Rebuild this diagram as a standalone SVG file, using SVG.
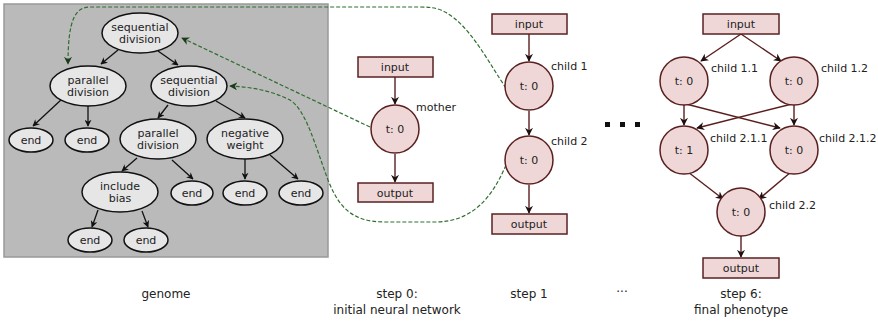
<svg xmlns="http://www.w3.org/2000/svg" width="878" height="322" viewBox="0 0 878 322">
<defs>
<style>
text{font-family:"DejaVu Sans","Liberation Sans",sans-serif;font-size:11px;fill:#222;text-anchor:middle}
#captions text{font-size:12px}
.gene ellipse{fill:#e6e6e6;stroke:#111;stroke-width:1.5}
.net rect,.net circle{fill:#efd7d7;stroke:#5a2020;stroke-width:1.5}
.lbl{text-anchor:start}
.ga{stroke:#111;stroke-width:1.3;fill:none;marker-end:url(#ah)}
.na{stroke:#5a1e1e;stroke-width:1.4;fill:none;marker-end:url(#nh)}
.gd{stroke:#2f6e2f;stroke-width:1.2;fill:none;stroke-dasharray:4,2;marker-end:url(#gh)}
</style>
<marker id="ah" viewBox="0 0 10 10" refX="9" refY="5" markerWidth="7" markerHeight="7" orient="auto" markerUnits="userSpaceOnUse">
<path d="M0,0 L10,5 L0,10 L3,5 z" fill="#111"/>
</marker>
<marker id="nh" viewBox="0 0 10 10" refX="9" refY="5" markerWidth="8" markerHeight="8" orient="auto" markerUnits="userSpaceOnUse">
<path d="M0,0 L10,5 L0,10 L3,5 z" fill="#1e1010"/>
</marker>
<marker id="gh" viewBox="0 0 10 10" refX="9" refY="5" markerWidth="8" markerHeight="8" orient="auto" markerUnits="userSpaceOnUse">
<path d="M0,0 L10,5 L0,10 L3,5 z" fill="#1a3a1a"/>
</marker>
</defs>
<rect x="4" y="4" width="324" height="253" fill="#bababa" stroke="#999" stroke-width="1.5"/>

<g id="connectors">
<g id="genome-edges">
<line class="ga" x1="118" y1="50" x2="101" y2="64"/>
<line class="ga" x1="158" y1="51" x2="178" y2="65"/>
<line class="ga" x1="62" y1="99" x2="33" y2="126"/>
<line class="ga" x1="88" y1="106" x2="88" y2="126"/>
<line class="ga" x1="168" y1="105" x2="158" y2="118"/>
<line class="ga" x1="216" y1="101" x2="245" y2="118"/>
<line class="ga" x1="137" y1="158" x2="122" y2="171"/>
<line class="ga" x1="172" y1="160" x2="193" y2="179"/>
<line class="ga" x1="245" y1="159" x2="245" y2="179"/>
<line class="ga" x1="270" y1="155" x2="298" y2="179"/>
<line class="ga" x1="98" y1="210" x2="92" y2="227"/>
<line class="ga" x1="142" y1="211" x2="148" y2="227"/>
</g>
<g id="net-edges">
<line class="na" x1="395" y1="77" x2="395" y2="104"/>
<line class="na" x1="395" y1="154" x2="395" y2="182"/>
<line class="na" x1="529" y1="34" x2="529" y2="61"/>
<line class="na" x1="529" y1="111" x2="529" y2="135"/>
<line class="na" x1="529" y1="185" x2="529" y2="213"/>
<line class="na" x1="741" y1="34" x2="701" y2="61"/>
<line class="na" x1="741" y1="34" x2="781" y2="61"/>
<line class="na" x1="684" y1="105" x2="684" y2="125"/>
<line class="na" x1="794" y1="105" x2="794" y2="125"/>
<line class="na" x1="686" y1="104" x2="780" y2="128"/>
<line class="na" x1="792" y1="104" x2="697" y2="128"/>
<line class="na" x1="688" y1="172" x2="723" y2="199"/>
<line class="na" x1="791" y1="172" x2="759" y2="199"/>
<line class="na" x1="741" y1="236" x2="741" y2="257"/>
</g>
<g id="dashed">
<path class="gd" d="M506,88 C490,65 470,25 445,12 C438,8 430,7 420,7 L90,7 C75,7 68,20 68,64"/>
<path class="gd" d="M370,127 L182,38"/>
<path class="gd" d="M506,165 C492,198 472,222 435,222 L385,222 C350,222 338,205 328,180 C315,145 306,110 290,100 C270,90 250,87 230,86"/>
</g>
</g>

<g class="gene">
<g id="g-seq1"><ellipse cx="140" cy="33" rx="38" ry="20"/><text x="140" y="31">sequential</text><text x="140" y="43">division</text></g>
<g id="g-par1"><ellipse cx="88" cy="86" rx="38" ry="20"/><text x="88" y="84">parallel</text><text x="88" y="96">division</text></g>
<g id="g-seq2"><ellipse cx="189" cy="86" rx="38" ry="20"/><text x="189" y="84">sequential</text><text x="189" y="96">division</text></g>
<g id="g-end1"><ellipse cx="31" cy="140" rx="22" ry="12"/><text x="31" y="144">end</text></g>
<g id="g-end2"><ellipse cx="87" cy="140" rx="22" ry="12"/><text x="87" y="144">end</text></g>
<g id="g-par2"><ellipse cx="158" cy="139" rx="38" ry="20"/><text x="158" y="137">parallel</text><text x="158" y="149">division</text></g>
<g id="g-neg"><ellipse cx="245" cy="139" rx="38" ry="20"/><text x="245" y="137">negative</text><text x="245" y="149">weight</text></g>
<g id="g-bias"><ellipse cx="120" cy="192" rx="38" ry="20"/><text x="120" y="190">include</text><text x="120" y="202">bias</text></g>
<g id="g-end3"><ellipse cx="192" cy="193" rx="21" ry="12"/><text x="192" y="197">end</text></g>
<g id="g-end4"><ellipse cx="245" cy="193" rx="22" ry="12"/><text x="245" y="197">end</text></g>
<g id="g-end5"><ellipse cx="301" cy="193" rx="22" ry="12"/><text x="301" y="197">end</text></g>
<g id="g-end6"><ellipse cx="90" cy="240" rx="22" ry="12"/><text x="90" y="244">end</text></g>
<g id="g-end7"><ellipse cx="146" cy="240" rx="22" ry="12"/><text x="146" y="244">end</text></g>
</g>

<g class="net">
<g id="s0-input"><rect x="358" y="57" width="75" height="20"/><text x="395" y="71">input</text></g>
<g id="s0-mother"><circle cx="395" cy="129" r="24"/><text x="395" y="133">t: 0</text><text class="lbl" x="416" y="111">mother</text></g>
<g id="s0-output"><rect x="358" y="183" width="75" height="19"/><text x="395" y="197">output</text></g>

<g id="s1-input"><rect x="492" y="14" width="75" height="20"/><text x="529" y="28">input</text></g>
<g id="s1-child1"><circle cx="529" cy="86" r="24"/><text x="529" y="90">t: 0</text><text class="lbl" x="551" y="70">child 1</text></g>
<g id="s1-child2"><circle cx="529" cy="160" r="24"/><text x="529" y="164">t: 0</text><text class="lbl" x="551" y="145">child 2</text></g>
<g id="s1-output"><rect x="492" y="214" width="75" height="20"/><text x="529" y="228">output</text></g>

<g id="s6-input"><rect x="703" y="14" width="76" height="20"/><text x="741" y="28">input</text></g>
<g id="s6-c11"><circle cx="684" cy="81" r="24"/><text x="684" y="85">t: 0</text><text class="lbl" x="711" y="72">child 1.1</text></g>
<g id="s6-c12"><circle cx="794" cy="81" r="24"/><text x="794" y="85">t: 0</text><text class="lbl" x="821" y="72">child 1.2</text></g>
<g id="s6-c211"><circle cx="684" cy="150" r="24"/><text x="684" y="154">t: 1</text><text class="lbl" x="710" y="142">child 2.1.1</text></g>
<g id="s6-c212"><circle cx="794" cy="150" r="24"/><text x="794" y="154">t: 0</text><text class="lbl" x="819" y="142">child 2.1.2</text></g>
<g id="s6-c22"><circle cx="741" cy="212" r="24"/><text x="741" y="216">t: 0</text><text class="lbl" x="769" y="209">child 2.2</text></g>
<g id="s6-output"><rect x="703" y="258" width="76" height="20"/><text x="741" y="272">output</text></g>
</g>

<g id="ellipsis-dots" fill="#111">
<rect x="605" y="122" width="5" height="5"/>
<rect x="620" y="122" width="5" height="5"/>
<rect x="635" y="122" width="5" height="5"/>
</g>

<g id="captions">
<text x="166" y="298">genome</text>
<text x="397" y="298">step 0:</text>
<text x="397" y="314">initial neural network</text>
<text x="529" y="298">step 1</text>
<text x="622" y="292">...</text>
<text x="741" y="298">step 6:</text>
<text x="741" y="314">final phenotype</text>
</g>
</svg>
